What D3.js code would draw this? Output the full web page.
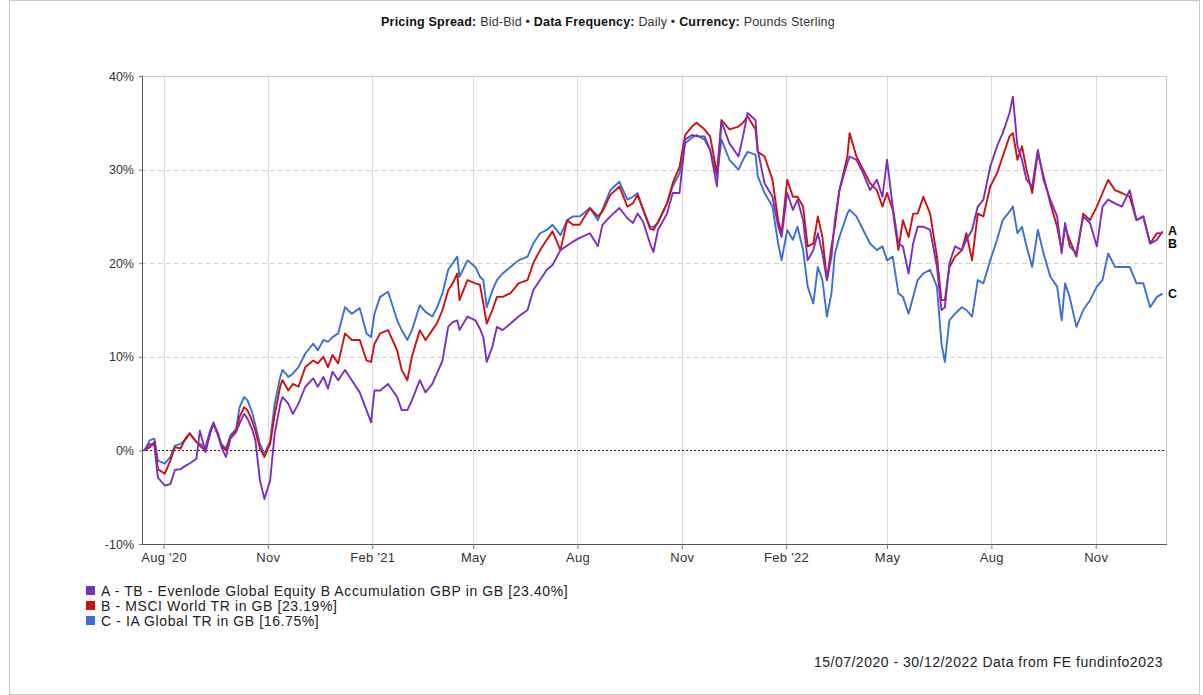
<!DOCTYPE html>
<html>
<head>
<meta charset="utf-8">
<script src="https://cdn.jsdelivr.net/npm/d3@7"></script>
<style>
  html, body { margin: 0; padding: 0; background: #fff; }
  svg { display: block; font-family: "Liberation Sans", Arial, sans-serif; }
</style>
</head>
<body>
<svg id="chart" width="1203" height="695"></svg>
<script>
// dates (roughly weekly)
const dates = [
  "2020-07-15","2020-07-20","2020-07-24","2020-07-27","2020-08-02","2020-08-07","2020-08-11","2020-08-16",
  "2020-08-21","2020-08-24","2020-08-30","2020-09-02","2020-09-07","2020-09-11","2020-09-14","2020-09-18",
  "2020-09-21","2020-09-25","2020-09-29","2020-10-04","2020-10-07","2020-10-11","2020-10-14","2020-10-18",
  "2020-10-21","2020-10-25","2020-10-29","2020-11-03","2020-11-07","2020-11-12","2020-11-14","2020-11-19",
  "2020-11-23","2020-11-28","2020-12-04","2020-12-11","2020-12-15","2020-12-20","2020-12-24","2020-12-28",
  "2021-01-02","2021-01-08","2021-01-14","2021-01-21","2021-01-27","2021-01-31","2021-02-03","2021-02-08",
  "2021-02-15","2021-02-23","2021-02-27","2021-03-04","2021-03-08","2021-03-15","2021-03-20","2021-03-26",
  "2021-03-30","2021-04-04","2021-04-09","2021-04-13","2021-04-17","2021-04-19","2021-04-26","2021-05-03",
  "2021-05-07","2021-05-10","2021-05-13","2021-05-18","2021-05-22","2021-05-27","2021-06-03","2021-06-10",
  "2021-06-18","2021-06-23","2021-06-29","2021-07-05","2021-07-10","2021-07-17","2021-07-23","2021-07-28",
  "2021-08-03","2021-08-12","2021-08-19","2021-08-23","2021-08-30","2021-09-07","2021-09-14","2021-09-19",
  "2021-09-23","2021-09-28","2021-10-04","2021-10-07","2021-10-11","2021-10-19","2021-10-24","2021-10-30",
  "2021-11-04","2021-11-10","2021-11-14","2021-11-21","2021-11-26","2021-12-02","2021-12-06","2021-12-13",
  "2021-12-21","2021-12-25","2021-12-29","2022-01-05","2022-01-07","2022-01-13","2022-01-20","2022-01-25",
  "2022-01-28","2022-02-02","2022-02-07","2022-02-11","2022-02-16","2022-02-20","2022-02-25","2022-03-01",
  "2022-03-05","2022-03-09","2022-03-13","2022-03-16","2022-03-20","2022-03-27","2022-03-29","2022-04-04",
  "2022-04-10","2022-04-16","2022-04-22","2022-04-27","2022-05-01","2022-05-06","2022-05-11","2022-05-15",
  "2022-05-20","2022-05-24","2022-05-28","2022-06-02","2022-06-08","2022-06-14","2022-06-18","2022-06-21",
  "2022-06-25","2022-06-30","2022-07-06","2022-07-10","2022-07-15","2022-07-20","2022-07-25","2022-07-31",
  "2022-08-06","2022-08-11","2022-08-17","2022-08-20","2022-08-24","2022-08-28","2022-09-01","2022-09-06",
  "2022-09-11","2022-09-16","2022-09-22","2022-09-28","2022-10-02","2022-10-05","2022-10-09","2022-10-15",
  "2022-10-21","2022-10-27","2022-11-02","2022-11-07","2022-11-12","2022-11-18","2022-11-24","2022-12-01",
  "2022-12-07","2022-12-13","2022-12-19","2022-12-25","2022-12-30"
];

// A - Evenlode Global Equity (purple)
const seriesA = [
  0,0.7,0.5,-2.9,-3.75,-3.6,-2.1,-2.0,
  -1.6,-1.4,-0.9,2.1,-0.2,1.8,2.85,1.8,
  0.35,-0.7,1.25,1.95,2.85,3.9,3.4,2.3,
  1.1,-3.2,-5.2,-3.2,1.8,5.0,5.7,5.0,
  3.9,5.0,6.8,7.7,6.8,7.85,6.6,8.4,
  7.5,8.6,7.5,6.2,4.3,3.0,6.4,6.4,
  7.1,5.7,4.3,4.3,5.35,7.5,6.2,7.1,
  8.2,9.6,13.2,13.7,13.9,12.85,14.3,13.9,
  13.0,12.1,9.45,11.1,13.2,12.85,13.55,14.3,
  15.0,17.1,18.2,19.3,19.8,21.4,21.9,22.3,
  22.7,23.2,21.8,24.1,25.0,25.9,24.8,24.3,
  25.3,24.4,22.1,21.2,23.55,25.3,27.5,27.5,
  33.2,33.7,33.55,33.55,32.1,28.2,35.15,32.8,
  31.4,33.55,36.05,35.3,32.1,28.55,27.1,23.9,
  22.8,27.5,25.7,26.8,24.6,20.3,21.4,23.2,
  21.05,18.2,20.7,24.6,27.8,30.7,31.4,31.05,
  29.6,27.8,28.9,27.1,31.05,26.05,22.1,21.8,
  18.9,22.1,23.9,23.9,23.55,19.6,15.0,15.3,
  20.0,21.8,21.4,22.5,23.55,26.05,26.8,30.3,
  32.5,33.9,36.05,37.8,32.5,31.05,28.9,28.2,
  32.1,28.9,26.8,25.0,21.05,24.3,21.8,21.05,
  25.0,24.3,21.8,26.05,26.8,26.4,26.05,27.8,
  24.6,25.0,22.1,22.5,23.40
];

// B - MSCI World (red)
const seriesB = [
  0,0.35,0.9,-2.0,-2.5,-1.1,0.35,0.2,
  1.4,1.8,0.9,0.5,0.0,1.8,2.85,1.6,
  0.5,0.0,1.4,2.1,3.55,4.6,4.3,3.2,
  2.1,0.2,-0.7,0.7,3.8,6.9,7.5,6.4,
  7.1,6.8,8.9,9.6,9.3,10.0,8.9,10.2,
  9.3,12.5,11.8,11.8,9.6,9.45,11.4,12.5,
  12.85,10.7,8.6,7.5,10.0,12.85,11.8,12.85,
  13.55,15.0,17.1,17.85,18.9,16.05,18.2,17.85,
  17.7,15.7,13.55,15.0,16.4,16.4,16.8,17.85,
  18.2,20.0,21.4,22.5,23.4,21.4,24.6,24.1,
  24.1,25.9,25.0,25.5,27.3,28.2,26.05,26.4,
  27.3,25.7,23.7,23.55,24.4,26.4,28.55,30.3,
  33.7,34.6,35.0,34.3,33.55,29.6,35.3,34.3,
  34.6,35.0,35.7,34.3,31.9,31.4,28.9,24.6,
  23.2,28.9,27.1,27.1,26.05,21.8,22.1,25.0,
  22.8,18.2,21.8,23.9,27.8,31.4,33.9,31.4,
  30.0,28.55,27.8,26.05,27.5,25.7,21.4,24.6,
  22.8,25.3,25.3,27.1,25.3,20.7,16.05,16.05,
  19.6,20.7,21.4,23.2,20.3,25.3,25.0,28.2,
  29.6,31.4,33.55,33.9,31.05,32.5,30.0,27.5,
  31.8,29.3,26.4,23.9,21.4,23.9,22.5,20.7,
  25.3,24.6,26.05,27.5,28.9,27.8,27.5,27.1,
  24.6,25.0,22.1,23.2,23.19
];

// C - IA Global (blue)
const seriesC = [
  0,1.1,1.25,-1.1,-1.4,-0.7,0.5,0.7,
  1.25,1.85,0.9,0.7,0.35,2.1,3.0,1.8,
  0.7,0.2,1.6,2.3,4.6,5.7,5.35,4.1,
  2.7,0.7,-0.35,1.0,5.0,7.9,8.6,7.85,
  8.2,8.9,10.35,11.4,10.7,11.8,11.6,12.1,
  12.5,15.3,14.6,15.2,12.5,12.1,14.6,16.4,
  16.95,13.9,12.85,11.8,12.85,15.5,14.8,14.3,
  15.2,16.8,19.3,20.0,20.7,18.55,20.3,19.6,
  18.55,18.2,15.3,17.1,18.2,18.9,19.6,20.3,
  20.7,22.1,23.2,23.55,24.1,23.0,24.6,25.0,
  25.0,25.9,24.6,25.7,27.8,28.7,26.8,27.1,
  27.5,25.7,23.9,23.9,24.3,26.4,28.2,29.6,
  32.8,33.4,33.7,33.2,32.1,29.3,33.2,31.05,
  30.0,31.05,31.9,31.6,29.3,27.5,26.05,22.1,
  20.3,23.55,22.5,23.9,21.4,17.5,15.7,19.6,
  18.2,14.3,16.8,21.05,22.8,25.3,25.7,25.0,
  23.55,22.1,21.4,21.8,20.3,20.7,16.8,16.4,
  14.6,16.4,18.2,18.9,19.3,17.5,11.4,9.45,
  13.9,14.6,15.3,15.0,14.3,18.2,17.85,20.3,
  22.5,24.6,25.5,26.05,23.2,23.9,21.8,19.6,
  23.55,21.05,18.55,17.5,13.9,17.85,16.4,13.2,
  15.0,16.05,17.5,18.2,21.05,19.6,19.6,19.6,
  17.85,17.85,15.3,16.4,16.75
];

const seriesKeys = ["A", "B", "C"];
const seriesNames = [
  "A - TB - Evenlode Global Equity B Accumulation GBP in GB [23.40%]",
  "B - MSCI World TR in GB [23.19%]",
  "C - IA Global TR in GB [16.75%]"
];
const seriesColors = ["#7a2fc2", "#cc1111", "#3a6fd6"];

const xTickDates = ["2020-08-01","2020-11-01","2021-02-01","2021-05-01","2021-08-01","2021-11-01",
                    "2022-02-01","2022-05-01","2022-08-01","2022-11-01"];
const xTickLabels = ["Aug '20","Nov","Feb '21","May","Aug","Nov","Feb '22","May","Aug","Nov"];
const yTicks = [-10, 0, 10, 20, 30, 40];

const parse = d3.timeParse("%Y-%m-%d");

const svg = d3.select("#chart");
const W = 1203, H = 695;
const plot = { left: 142, right: 1166, top: 76, bottom: 544 };

// outer frame
svg.append("rect")
  .attr("x", 9.5).attr("y", 0.5)
  .attr("width", W - 13).attr("height", H - 1)
  .attr("fill", "#fff").attr("stroke", "#c8c8c8");

// header
const head = svg.append("text")
  .attr("x", 608).attr("y", 26)
  .attr("text-anchor", "middle")
  .attr("font-size", 12.5)
  .attr("letter-spacing", 0.2)
  .attr("fill", "#222");
[["Pricing Spread: ", true], ["Bid-Bid", false], [" \u2022 ", false],
 ["Data Frequency: ", true], ["Daily", false], [" \u2022 ", false],
 ["Currency: ", true], ["Pounds Sterling", false]].forEach(([t, b]) => {
  head.append("tspan")
    .attr("font-weight", b ? "bold" : "normal")
    .attr("fill", b ? "#111" : "#333")
    .text(t);
});

const x = d3.scaleTime()
  .domain([parse("2020-07-13"), parse("2023-01-02")])
  .range([plot.left, plot.right]);

const y = d3.scaleLinear()
  .domain([-10, 40])
  .range([plot.bottom, plot.top]);

// vertical gridlines
svg.append("g")
  .selectAll("line")
  .data(xTickDates)
  .join("line")
  .attr("x1", d => Math.round(x(parse(d))) + 0.5)
  .attr("x2", d => Math.round(x(parse(d))) + 0.5)
  .attr("y1", plot.top)
  .attr("y2", plot.bottom)
  .attr("stroke", "#d9d9d9");

// horizontal gridlines
svg.append("g")
  .selectAll("line")
  .data(yTicks.filter(v => v > 0 && v < 40))
  .join("line")
  .attr("x1", plot.left)
  .attr("x2", plot.right)
  .attr("y1", d => Math.round(y(d)) + 0.5)
  .attr("y2", d => Math.round(y(d)) + 0.5)
  .attr("stroke", "#d0d0d0")
  .attr("stroke-dasharray", "5,3");

// top and right border
svg.append("path")
  .attr("d", `M${plot.left},${plot.top + 0.5}H${plot.right + 0.5}V${plot.bottom}`)
  .attr("fill", "none")
  .attr("stroke", "#c8c8c8");

// zero line
svg.append("line")
  .attr("x1", plot.left).attr("x2", plot.right)
  .attr("y1", Math.round(y(0)) + 0.5).attr("y2", Math.round(y(0)) + 0.5)
  .attr("stroke", "#222")
  .attr("stroke-dasharray", "2,2");

// axes
const xAxis = d3.axisBottom(x)
  .tickValues(xTickDates.map(parse))
  .tickFormat((d, i) => xTickLabels[i])
  .tickSize(5)
  .tickPadding(4);

const gx = svg.append("g")
  .attr("transform", `translate(0,${plot.bottom})`)
  .call(xAxis);
gx.select(".domain").attr("stroke", "#555").attr("d", `M${plot.left},0.5H${plot.right + 1}`);
gx.selectAll(".tick line").attr("stroke", "#777");
gx.selectAll(".tick text")
  .attr("font-family", "Liberation Sans, Arial, sans-serif")
  .attr("font-size", 13)
  .attr("letter-spacing", 0.3)
  .attr("fill", "#333");

const yAxis = d3.axisLeft(y)
  .tickValues(yTicks)
  .tickFormat(d => d + "%")
  .tickSize(3)
  .tickPadding(5);

const gy = svg.append("g")
  .attr("transform", `translate(${plot.left},0)`)
  .call(yAxis);
gy.select(".domain").attr("stroke", "#555").attr("d", `M0.5,${plot.top}V${plot.bottom + 1}`);
gy.selectAll(".tick line").attr("stroke", "#777");
gy.selectAll(".tick text")
  .attr("font-family", "Liberation Sans, Arial, sans-serif")
  .attr("font-size", 12.5)
  .attr("fill", "#333");

// series
const allSeries = [seriesA, seriesB, seriesC];
const line = d3.line()
  .x(d => x(d.date))
  .y(d => y(d.value));

const seriesData = allSeries.map((vals, i) => ({
  key: seriesKeys[i],
  color: seriesColors[i],
  values: dates.map((d, j) => ({ date: parse(d), value: vals[j] }))
}));

svg.append("g")
  .selectAll("path")
  .data(seriesData.slice().reverse())
  .join("path")
  .attr("d", d => line(d.values))
  .attr("fill", "none")
  .attr("stroke", d => d.color)
  .attr("stroke-width", 1.9)
  .attr("stroke-linejoin", "round");

// end labels, nudged apart
const endLabels = seriesData.map(s => ({ key: s.key, y: y(s.values[s.values.length - 1].value) }))
  .sort((a, b) => a.y - b.y);
for (let i = 1; i < endLabels.length; i++) {
  if (endLabels[i].y - endLabels[i - 1].y < 13) endLabels[i].y = endLabels[i - 1].y + 13;
}
svg.append("g")
  .selectAll("text")
  .data(endLabels)
  .join("text")
  .attr("x", plot.right + 2)
  .attr("y", d => d.y + 4)
  .attr("font-size", 12.5)
  .attr("font-weight", "bold")
  .attr("fill", "#111")
  .text(d => d.key);

// legend
const legend = svg.append("g").attr("transform", "translate(86,591)");
const rows = legend.selectAll("g")
  .data(seriesNames)
  .join("g")
  .attr("transform", (d, i) => `translate(0,${i * 15})`);
rows.append("rect")
  .attr("x", 0).attr("y", -5)
  .attr("width", 9).attr("height", 9)
  .attr("fill", (d, i) => seriesColors[i]);
rows.append("text")
  .attr("x", 15).attr("y", 5)
  .attr("font-size", 14)
  .attr("letter-spacing", 0.6)
  .attr("fill", "#222")
  .text(d => d);

// footer
svg.append("text")
  .attr("x", 1163).attr("y", 667)
  .attr("text-anchor", "end")
  .attr("font-size", 14)
  .attr("letter-spacing", 0.5)
  .attr("fill", "#222")
  .text("15/07/2020 - 30/12/2022 Data from FE fundinfo2023");
</script>
</body>
</html>
